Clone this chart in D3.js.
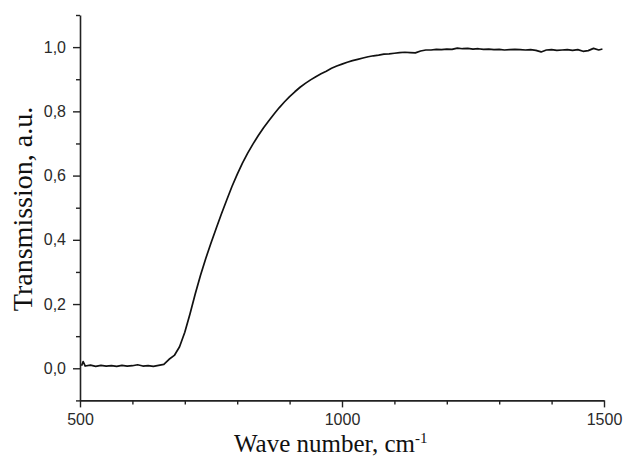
<!DOCTYPE html>
<html>
<head>
<meta charset="utf-8">
<script src="https://cdn.jsdelivr.net/npm/d3@7"></script>
<style>
  html, body { margin: 0; padding: 0; background: #fff; }
  svg { display: block; }
</style>
</head>
<body>
<svg id="chart" width="625" height="457"></svg>
<script>
// ---- data ----
const waveNumber = [503,506,510,520,530,540,550,560,570,580,590,600,610,620,630,640,650,660,670,680,690,700,710,720,730,740,750,760,770,780,790,800,810,820,830,840,850,860,870,880,890,900,910,920,930,940,950,960,970,980,990,1000,1010,1020,1030,1040,1050,1060,1070,1080,1090,1100,1110,1120,1130,1140,1150,1160,1170,1180,1190,1200,1210,1220,1230,1240,1250,1260,1270,1280,1290,1300,1310,1320,1330,1340,1350,1360,1370,1380,1390,1400,1410,1420,1430,1440,1450,1460,1470,1480,1490,1497];
const transmission = [0.008,0.021,0.007,0.010,0.006,0.009,0.007,0.008,0.006,0.009,0.007,0.008,0.011,0.007,0.008,0.006,0.009,0.012,0.028,0.040,0.067,0.112,0.170,0.232,0.290,0.342,0.390,0.436,0.481,0.524,0.566,0.604,0.639,0.670,0.698,0.724,0.748,0.770,0.791,0.811,0.829,0.846,0.861,0.875,0.887,0.898,0.908,0.917,0.925,0.934,0.941,0.947,0.953,0.958,0.962,0.966,0.970,0.973,0.975,0.978,0.979,0.981,0.983,0.984,0.983,0.982,0.988,0.991,0.991,0.993,0.992,0.994,0.993,0.997,0.995,0.996,0.994,0.995,0.993,0.994,0.992,0.993,0.991,0.992,0.993,0.992,0.991,0.992,0.990,0.985,0.991,0.992,0.990,0.991,0.992,0.990,0.992,0.987,0.989,0.996,0.991,0.994];
const xMajorTicks = [500, 1000, 1500];
const xMinorTicks = [600, 700, 800, 900, 1100, 1200, 1300, 1400];
const yMajorTicks = [0.0, 0.2, 0.4, 0.6, 0.8, 1.0];
const yMinorTicks = [-0.1, 0.1, 0.3, 0.5, 0.7, 0.9, 1.1];
const xTitle = "Wave number, cm";
const xTitleSup = "-1";
const yTitle = "Transmission, a.u.";

// ---- layout ----
const svg = d3.select("#chart");
const x = d3.scaleLinear().domain([500, 1500]).range([80, 604]);
const y = d3.scaleLinear().domain([-0.1, 1.1]).range([400.4, 15]);
const fmt = v => d3.format(".1f")(v).replace(".", ",");
const axisColor = "#222";

// x axis
const gx = svg.append("g").attr("transform", `translate(0,${y(-0.1)})`);
gx.call(d3.axisBottom(x).tickValues(xMajorTicks).tickSize(7).tickSizeOuter(0).tickPadding(6).tickFormat(d3.format("d")));
gx.append("g").call(d3.axisBottom(x).tickValues(xMinorTicks).tickSize(4).tickSizeOuter(0).tickFormat(""))
  .select(".domain").remove();

// y axis
const gy = svg.append("g").attr("transform", `translate(${x(500)},0)`);
gy.call(d3.axisLeft(y).tickValues(yMajorTicks).tickSize(7).tickSizeOuter(0).tickPadding(7).tickFormat(fmt));
gy.append("g").call(d3.axisLeft(y).tickValues(yMinorTicks).tickSize(4).tickSizeOuter(0).tickFormat(""))
  .select(".domain").remove();

svg.selectAll(".domain").attr("stroke", axisColor).attr("stroke-width", 1.6);
svg.selectAll(".tick line").attr("stroke", axisColor).attr("stroke-width", 1.4);
svg.selectAll(".tick text")
  .attr("fill", "#2a2a2a")
  .style("font-family", "'Liberation Sans', Arial, sans-serif")
  .style("font-size", "16px");

// curve
const pts = waveNumber.map((w, i) => [w, transmission[i]]);
svg.append("path")
  .datum(pts)
  .attr("fill", "none")
  .attr("stroke", "#111")
  .attr("stroke-width", 1.7)
  .attr("stroke-linejoin", "round")
  .attr("d", d3.line().x(d => x(d[0])).y(d => y(d[1])));

// titles
const xt = svg.append("text")
  .attr("x", 234).attr("y", 452)
  .style("font-family", "'Liberation Serif', 'Times New Roman', serif")
  .style("font-size", "25px")
  .attr("fill", "#111");
xt.append("tspan").text(xTitle);
xt.append("tspan").attr("dy", -9).style("font-size", "15px").text(xTitleSup);

svg.append("text")
  .attr("transform", `translate(32,${209}) rotate(-90)`)
  .attr("text-anchor", "middle")
  .style("font-family", "'Liberation Serif', 'Times New Roman', serif")
  .style("font-size", "28px")
  .attr("fill", "#111")
  .text(yTitle);
</script>
</body>
</html>
